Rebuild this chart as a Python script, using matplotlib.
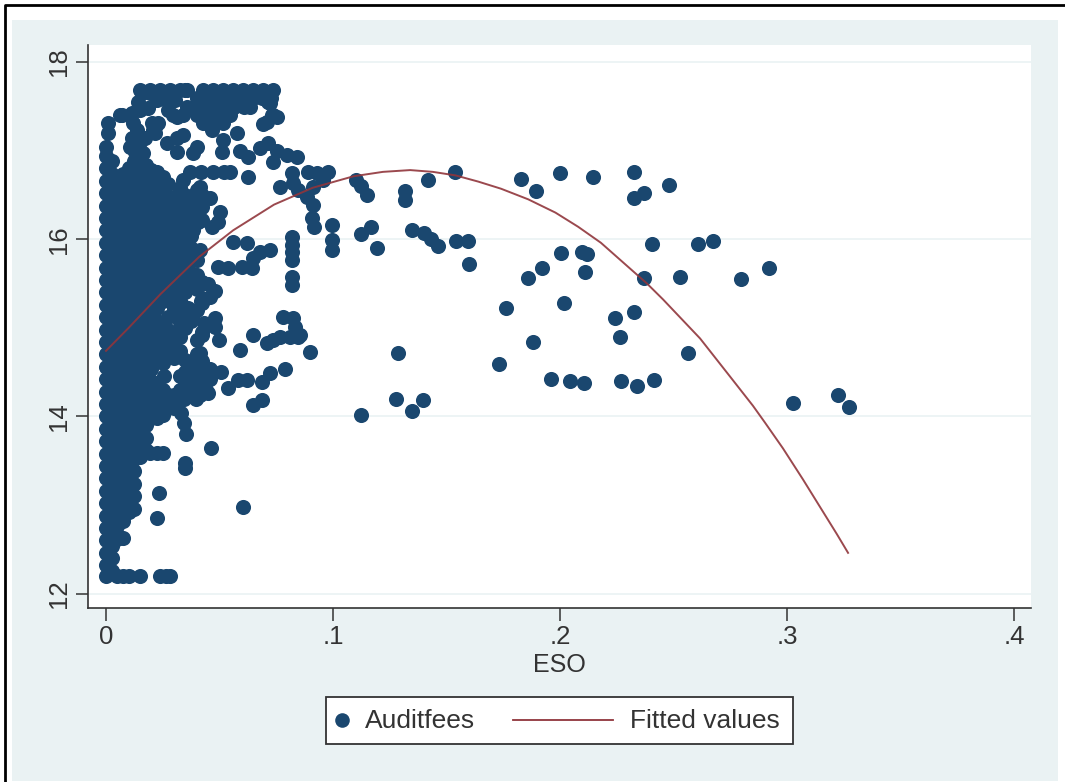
import numpy as np
import matplotlib
matplotlib.use('Agg')
import matplotlib.pyplot as plt
from matplotlib.lines import Line2D
from matplotlib.patches import Rectangle

plt.rcParams['font.family'] = ['Liberation Sans', 'DejaVu Sans']

W, H = 1065, 782
BG = '#eaf2f3'
NAVY = '#1a476f'
MAROON = '#90353b'
INK = '#333333'

# dense block near zero, one list of Auditfees per ESO column
col_x = [0.000, 0.005, 0.010, 0.015, 0.020, 0.025, 0.030, 0.035, 0.040]
col_y = [
    [12.2, 12.32, 12.46, 12.6, 12.74, 12.88, 13.02, 13.16, 13.3, 13.44, 13.58, 13.72, 13.86, 14.0, 14.14, 14.28,
     14.42, 14.56, 14.7, 14.84, 14.98, 15.12, 15.26, 15.4, 15.54, 15.68, 15.82, 15.96, 16.1, 16.24, 16.38, 16.52,
     16.66, 16.8, 16.94, 17.04],
    [12.2, 12.62, 12.76, 12.9, 13.04, 13.18, 13.32, 13.46, 13.6, 13.74, 13.88, 14.02, 14.16, 14.3, 14.44, 14.58,
     14.72, 14.86, 15.0, 15.14, 15.28, 15.42, 15.56, 15.7, 15.84, 15.98, 16.12, 16.26, 16.4, 16.54, 16.68],
    [12.2, 12.92, 13.04, 13.16, 13.3, 13.44, 13.58, 13.72, 13.86, 14.0, 14.14, 14.28, 14.42, 14.56, 14.7, 14.84,
     14.98, 15.12, 15.26, 15.4, 15.54, 15.68, 15.82, 15.96, 16.1, 16.24, 16.38, 16.52, 16.66, 16.8],
    [13.54, 13.66, 13.8, 13.94, 14.08, 14.22, 14.36, 14.5, 14.64, 14.78, 14.92, 15.06, 15.2, 15.34, 15.48, 15.62,
     15.76, 15.9, 16.04, 16.18, 16.32, 16.46, 16.6, 16.74, 16.86, 16.98],
    [13.98, 14.12, 14.26, 14.4, 14.54, 14.68, 14.82, 14.96, 15.1, 15.24, 15.38, 15.52, 15.66, 15.8, 15.94, 16.08,
     16.22, 16.36, 16.5, 16.64, 16.78],
    [14.02, 14.16, 14.3, 14.6, 14.74, 14.88, 15.02, 15.3, 15.44, 15.58, 15.72, 15.86, 16.0, 16.14, 16.28, 16.42,
     16.56, 16.7],
    [14.1, 14.24, 14.66, 14.8, 14.94, 15.22, 15.36, 15.5, 15.64, 15.78, 15.92, 16.06, 16.2, 16.34, 16.48],
    [14.36, 14.5, 14.64, 15.0, 15.14, 15.4, 15.54, 15.68, 15.82, 15.96, 16.1, 16.24, 16.38, 16.5],
    [14.36, 14.7, 14.86, 15.44, 15.6, 15.76, 16.28, 16.42, 16.56],
]

# observations that sit between those columns
mid_x = [0.0025, 0.0075, 0.0125, 0.0175, 0.0225, 0.0275, 0.0325, 0.0375, 0.0425]
mid_y = [
    [12.26, 12.4, 12.54, 12.68, 12.82, 12.96, 13.1, 13.24, 13.38, 13.52, 13.66, 13.8, 13.94, 14.08, 14.22, 14.36,
     14.5, 14.64, 14.78, 14.92, 15.06, 15.2, 15.34, 15.48, 15.62, 15.76, 15.9, 16.04, 16.18, 16.32, 16.46, 16.6,
     16.74, 16.88],
    [12.2, 12.82, 12.96, 13.1, 13.24, 13.38, 13.52, 13.66, 13.8, 13.94, 14.08, 14.22, 14.36, 14.5, 14.64, 14.78,
     14.92, 15.06, 15.2, 15.34, 15.48, 15.62, 15.76, 15.9, 16.04, 16.18, 16.32, 16.46, 16.6, 16.74],
    [12.96, 13.1, 13.24, 13.38, 13.52, 13.66, 13.8, 13.94, 14.08, 14.22, 14.36, 14.5, 14.64, 14.78, 14.92, 15.06,
     15.2, 15.34, 15.48, 15.62, 15.76, 15.9, 16.04, 16.18, 16.32, 16.46, 16.6, 16.74, 16.88],
    [13.62, 13.76, 13.9, 14.04, 14.18, 14.32, 14.46, 14.6, 14.74, 14.88, 15.02, 15.16, 15.3, 15.44, 15.58, 15.72,
     15.86, 16.0, 16.14, 16.28, 16.42, 16.56, 16.7, 16.84],
    [13.98, 14.1, 14.24, 14.38, 14.66, 14.8, 14.94, 15.08, 15.22, 15.36, 15.5, 15.64, 15.78, 15.92, 16.06, 16.2,
     16.34, 16.48, 16.62, 16.76],
    [14.1, 14.24, 14.7, 14.84, 14.98, 15.12, 15.36, 15.5, 15.64, 15.78, 15.92, 16.06, 16.2, 16.34, 16.48, 16.62],
    [14.3, 14.46, 14.74, 14.9, 15.06, 15.3, 15.46, 15.6, 15.74, 15.88, 16.02, 16.16, 16.3, 16.44, 16.58],
    [14.44, 14.58, 15.08, 15.48, 15.62, 15.76, 15.9, 16.04, 16.18, 16.32, 16.46],
    [14.44, 14.62, 15.28, 15.52, 16.22, 16.36, 16.5],
]

# top of the cloud, where the points run together
top_x = [0.0159, 0.0194, 0.0229, 0.0269, 0.0304, 0.0348, 0.0141, 0.0225, 0.0269, 0.0304, 0.007, 0.0115, 0.015, 0.0185,
         0.0119, 0.0137, 0.0115, 0.0106, 0.015, 0.0203, 0.0229, 0.0207, 0.0172, 0.0128, 0.0163, 0.04, 0.044, 0.0485,
         0.0524, 0.0564, 0.0608, 0.0648, 0.0687, 0.0727, 0.0357, 0.04, 0.044, 0.0485, 0.0524, 0.0564, 0.0608, 0.0634,
         0.0722, 0.0295, 0.034, 0.04, 0.044, 0.0485, 0.0524, 0.0546, 0.0427, 0.0471, 0.0515, 0.0467, 0.0731, 0.0753,
         0.0709, 0.0273, 0.0313]
top_y = [17.65, 17.65, 17.66, 17.66, 17.66, 17.68, 17.55, 17.57, 17.57, 17.57, 17.4, 17.42, 17.46, 17.48, 17.31, 17.23,
         17.14, 17.04, 17.1, 17.31, 17.31, 17.23, 17.14, 16.98, 16.97, 17.59, 17.59, 17.59, 17.59, 17.59, 17.59, 17.59,
         17.59, 17.59, 17.49, 17.49, 17.49, 17.49, 17.49, 17.49, 17.49, 17.49, 17.54, 17.4, 17.4, 17.4, 17.4, 17.4,
         17.4, 17.4, 17.31, 17.31, 17.31, 17.23, 17.4, 17.38, 17.32, 17.46, 17.38]

# loose points around the dense block
near_x = [0.015, 0.0194, 0.0238, 0.0282, 0.0326, 0.0357, 0.0427, 0.0471, 0.0515, 0.056, 0.0604, 0.0648, 0.0692,
          0.0736, 0.0714, 0.0736, 0.0692, 0.001, 0.001, 0.006, 0.0106, 0.0216, 0.0216, 0.0269, 0.0313, 0.0339, 0.0313,
          0.04, 0.0383, 0.0515, 0.0577, 0.0511, 0.059, 0.0626, 0.0678, 0.0714, 0.0753, 0.0797, 0.0841, 0.0736, 0.0819,
          0.089, 0.093, 0.0978, 0.0956, 0.0912, 0.0767, 0.0824, 0.0846, 0.0885, 0.0912, 0.0907, 0.0916, 0.0996, 0.0996,
          0.0996, 0.0626, 0.037, 0.042, 0.047, 0.052, 0.0546, 0.034, 0.0414, 0.0458, 0.0502, 0.0493, 0.0467, 0.0405,
          0.0383, 0.0414, 0.056, 0.0621, 0.0678, 0.0722, 0.0648, 0.0493, 0.0537, 0.06, 0.0643, 0.082, 0.082, 0.082,
          0.082, 0.082, 0.082, 0.048, 0.045, 0.048, 0.038, 0.034, 0.043, 0.036, 0.046, 0.048, 0.0423, 0.078, 0.0824,
          0.0833, 0.0855, 0.0498, 0.0423, 0.0648, 0.0767, 0.0736, 0.0709, 0.081, 0.0846, 0.059, 0.0414, 0.0899, 0.062,
          0.058, 0.0537, 0.045, 0.0416, 0.0507, 0.0458, 0.0417, 0.0417, 0.0458, 0.0687, 0.0723, 0.0789, 0.0648, 0.0687,
          0.0194, 0.0224, 0.0251, 0.0352, 0.0345, 0.033, 0.0233, 0.0224, 0.0604, 0.0463, 0.0348, 0.0348, 0.0075, 0.015,
          0.024, 0.0265, 0.028, 0.0368, 0.038, 0.0255, 0.032, 0.0345, 0.037, 0.0395, 0.044,
          0.034, 0.04, 0.042, 0.038, 0.03, 0.04, 0.036, 0.043, 0.033]
near_y = [17.68, 17.68, 17.68, 17.68, 17.68, 17.68, 17.68, 17.68, 17.68, 17.68, 17.68, 17.68, 17.68, 17.68, 17.55,
          17.4, 17.3, 17.31, 17.2, 17.4, 17.4, 17.27, 17.2, 17.09, 17.14, 17.18, 16.98, 17.04, 16.97, 17.12, 17.2, 16.98,
          17.0, 16.93, 17.03, 17.09, 17.0, 16.95, 16.93, 16.87, 16.75, 16.76, 16.75, 16.76, 16.67, 16.59, 16.59, 16.63,
          16.55, 16.48, 16.39, 16.24, 16.14, 16.16, 15.99, 15.88, 16.7, 16.76, 16.76, 16.76, 16.76, 16.76, 16.67, 16.59,
          16.46, 16.31, 16.19, 16.14, 16.19, 16.1, 15.88, 15.97, 15.96, 15.86, 15.88, 15.79, 15.69, 15.67, 15.69, 15.67,
          16.03, 15.93, 15.86, 15.77, 15.57, 15.48, 15.11, 15.5, 15.42, 15.6, 15.58, 15.32, 15.22, 15.35, 15.01, 14.95,
          15.12, 15.11, 15.01, 14.92, 14.86, 14.92, 14.92, 14.9, 14.86, 14.83, 14.9, 14.9, 14.75, 14.72, 14.73, 14.41,
          14.41, 14.32, 14.26, 14.24, 14.5, 14.53, 14.53, 14.38, 14.42, 14.39, 14.49, 14.53, 14.13, 14.19, 13.59, 13.59,
          13.59, 13.8, 13.92, 14.04, 13.14, 12.85, 12.98, 13.64, 13.47, 13.42, 12.63, 12.2, 12.2, 12.2, 12.2, 14.6, 14.3,
          14.46, 14.18, 14.2, 14.25, 14.2, 14.3,
          15.25, 15.2, 15.3, 15.12, 15.2, 15.45, 15.5, 15.05, 15.08]

# the thin scatter on the right
far_x = [0.11, 0.1123, 0.115, 0.1123, 0.1167, 0.1194, 0.1317, 0.1317, 0.1419, 0.1537, 0.1348, 0.1401, 0.1432, 0.1463,
         0.1542, 0.1595, 0.1599, 0.1286, 0.1278, 0.1348, 0.1396, 0.1123, 0.1731, 0.1762, 0.1859, 0.1921, 0.1881,
         0.1828, 0.1894, 0.2, 0.2145, 0.2326, 0.2326, 0.237, 0.248, 0.2004, 0.2097, 0.2119, 0.211, 0.2018, 0.2242,
         0.2326, 0.2264, 0.237, 0.2405, 0.2529, 0.2608, 0.2674, 0.2564, 0.2797, 0.2921, 0.196, 0.2044, 0.2106,
         0.2269, 0.2339, 0.2414, 0.3026, 0.3225, 0.3273]
far_y = [16.67, 16.6, 16.5, 16.06, 16.14, 15.9, 16.54, 16.44, 16.67, 16.76, 16.1, 16.07, 16.0, 15.92, 15.98, 15.98,
         15.72, 14.72, 14.2, 14.06, 14.18, 14.02, 14.59, 15.22, 15.56, 15.67, 14.84, 16.68, 16.54, 16.75, 16.7, 16.76,
         16.47, 16.52, 16.61, 15.84, 15.86, 15.83, 15.63, 15.28, 15.11, 15.18, 14.9, 15.56, 15.95, 15.57, 15.95, 15.98,
         14.72, 15.55, 15.67, 14.42, 14.4, 14.38, 14.4, 14.34, 14.41, 14.15, 14.24, 14.11]

# fitted values
fit_x = [0.0, 0.01, 0.024, 0.041, 0.056, 0.074, 0.091, 0.109, 0.122, 0.134, 0.144, 0.154, 0.164, 0.174, 0.186, 0.198,
         0.208, 0.218, 0.2383, 0.2454, 0.2617, 0.2749, 0.285, 0.2903, 0.2982, 0.307, 0.3145, 0.322, 0.3269]
fit_y = [14.74, 15.0, 15.38, 15.8, 16.1, 16.39, 16.58, 16.71, 16.76, 16.78, 16.76, 16.72, 16.65, 16.57, 16.45, 16.3,
         16.14, 15.96, 15.5, 15.32, 14.88, 14.45, 14.12, 13.93, 13.64, 13.29, 12.98, 12.67, 12.46]

xticks = [0, 0.1, 0.2, 0.3, 0.4]
xtick_labels = ['0', '.1', '.2', '.3', '.4']
yticks = [12, 14, 16, 18]


def fx(px):
    return px / W


def fy(py):
    return 1 - py / H


fig = plt.figure(figsize=(W / 100, H / 100), dpi=100, facecolor='white')
# outer graph region, then the black frame of the pasted picture (open on the right)
fig.patches.append(Rectangle((fx(12), fy(781)), fx(1058 - 12), (781 - 20) / H, transform=fig.transFigure,
                             facecolor=BG, edgecolor='none', zorder=-2))
frame = Line2D([fx(5), fx(5), 1], [0, fy(5), fy(5)], transform=fig.transFigure,
               color='black', linewidth=2.0, zorder=-1)
fig.lines.append(frame)

# plot region 88..1031 across, 45..608 down, in pixels
ax = fig.add_axes([fx(88), fy(608), fx(1031 - 88), (608 - 45) / H], facecolor='white')
ax.set_xlim((88 - 106) / 2270, (1031 - 106) / 2270)
ax.set_ylim(18 - (608 - 62) / 88.6, 18 + (62 - 45) / 88.6)

ax.grid(axis='y', color=BG, linewidth=1.2)
ax.set_axisbelow(True)
for side in ['top', 'right']:
    ax.spines[side].set_visible(False)
for side in ['left', 'bottom']:
    ax.spines[side].set_color(INK)
    ax.spines[side].set_linewidth(1.2)

dense_x = [x for x, ys in zip(col_x + mid_x, col_y + mid_y) for y in ys]
dense_y = [y for ys in col_y + mid_y for y in ys]
all_x = dense_x + top_x + near_x + far_x
all_y = dense_y + top_y + near_y + far_y
ax.scatter(all_x, all_y, s=118, color=NAVY, linewidths=0, zorder=3, clip_on=False)
ax.plot(fit_x, fit_y, color=MAROON, linewidth=1.4, alpha=0.9, zorder=4)

ax.set_xticks(xticks, xtick_labels)
ax.set_yticks(yticks, [str(v) for v in yticks])
ax.tick_params(axis='both', length=9, width=1.1, color=INK, labelcolor=INK, labelsize=18.5, pad=3)
ax.tick_params(axis='y', labelrotation=90)
for lab in ax.get_yticklabels():
    lab.set_va('center')
ax.set_xlabel('ESO', fontsize=18, color=INK, labelpad=3)

# legend box, laid out by hand because Stata puts the marker at the far left
fig.add_artist(Rectangle((fx(326), fy(744)), fx(793 - 326), (744 - 697) / H, transform=fig.transFigure,
                         facecolor='white', edgecolor=INK, linewidth=1.3))
fig.add_artist(Line2D([fx(342)], [fy(720)], transform=fig.transFigure, linestyle='none', marker='o',
                      markersize=10.5, markeredgewidth=0, color=NAVY))
fig.add_artist(Line2D([fx(513), fx(613)], [fy(720), fy(720)], transform=fig.transFigure,
                      color=MAROON, linewidth=1.3))
fig.text(fx(365), fy(721), 'Auditfees', fontsize=19, color=INK, va='center')
fig.text(fx(630), fy(721), 'Fitted values', fontsize=19, color=INK, va='center')

fig.savefig('out.png', dpi=100)
